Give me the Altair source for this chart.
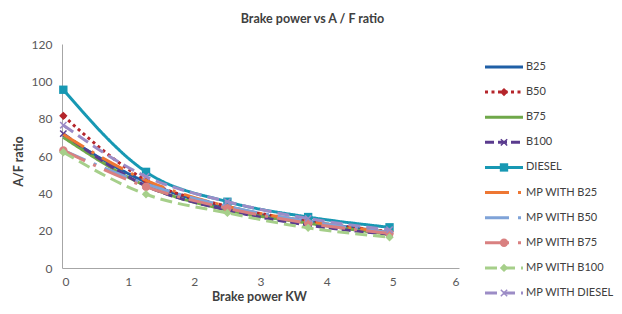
import altair as alt
import pandas as pd

x_kw = [0.02, 1.27, 2.5, 3.72, 4.95]
series = ["B25", "B50", "B75", "B100", "DIESEL", "MP WITH B25", "MP WITH B50",
          "MP WITH B75", "MP WITH B100", "MP WITH DIESEL"]
b25 = [71, 46, 32, 25, 19]
b50 = [81.5, 47, 33, 25, 19.5]
b75 = [70, 44, 31, 24, 18]
b100 = [72, 44, 31, 23, 18]
diesel = [95.5, 51.5, 35.5, 27.3, 21.8]
mp_b25 = [71.5, 47, 33, 25, 19]
mp_b50 = [63, 45, 33, 25, 19]
mp_b75 = [63, 43.5, 32, 24, 18.5]
mp_b100 = [62, 39.5, 29.5, 21.5, 16.5]
mp_diesel = [76.5, 49, 35.5, 26.5, 20.5]
values = [b25, b50, b75, b100, diesel, mp_b25, mp_b50, mp_b75, mp_b100, mp_diesel]

colors = ["#1f5fa6", "#b5252b", "#6fa84a", "#5a3b8e", "#1798b3",
          "#ee7733", "#7fa3d8", "#d98080", "#a6cf8a", "#9c8cc6"]
dashes = [[1, 0], [3, 3.5], [1, 0], [9, 4], [1, 0],
          [24, 9, 3, 9], [24, 9, 3, 9], [24, 9, 3, 9], [12, 6], [12, 6]]
XMARK = "M-1,-1L1,1M-1,1L1,-1"
marker_series = ["B50", "DIESEL", "MP WITH B75", "MP WITH B100"]
marker_shapes = ["diamond", "square", "circle", "diamond"]
x_series = ["B100", "MP WITH DIESEL"]

rows = []
for s, vals in zip(series, values):
    for xv, yv in zip(x_kw, vals):
        rows.append({"series": s, "kw": xv, "af": yv})
df = pd.DataFrame(rows)
leg = pd.DataFrame({"series": series})

FONT = "Lato"
X = alt.X("kw:Q", scale=alt.Scale(domain=[0, 6], nice=False),
          axis=alt.Axis(title="Brake power KW", values=[0, 1, 2, 3, 4, 5, 6], grid=False,
                        ticks=False, labelPadding=8, domainColor="#a6a6a6",
                        titleX=197, titleY=28, titleBaseline="middle", titleAlign="center"))
Y = alt.Y("af:Q", scale=alt.Scale(domain=[0, 120], nice=False),
          axis=alt.Axis(title="A/F ratio", values=[0, 20, 40, 60, 80, 100, 120], grid=False,
                        ticks=False, labelPadding=10, domainColor="#a6a6a6",
                        titleX=-44, titleY=117, titleAngle=270, titleBaseline="middle",
                        titleAlign="center"))

base = alt.Chart(df)
layers = []
for s, c, d in zip(series, colors, dashes):
    layers.append(base.transform_filter(alt.datum.series == s).mark_line(
        interpolate="monotone", strokeWidth=3, strokeDash=d, color=c
    ).encode(x=X, y=Y))
    if s in marker_series:
        shp = marker_shapes[marker_series.index(s)]
        layers.append(base.transform_filter(alt.datum.series == s).mark_point(
            shape=shp, filled=True, size=70, color=c, opacity=1
        ).encode(x=X, y=Y))
    if s in x_series:
        layers.append(base.transform_filter(alt.datum.series == s).mark_point(
            shape=XMARK, filled=False, size=40, color=c, strokeWidth=1.5, opacity=1
        ).encode(x=X, y=Y))
main = alt.layer(*layers)

LY = alt.Y("series:N", scale=alt.Scale(type="point", domain=series, range=[23, 249], padding=0),
           axis=None)
LC = alt.Color("series:N", scale=alt.Scale(domain=series, range=colors), legend=None)
LD = alt.StrokeDash("series:N", scale=alt.Scale(domain=series, range=dashes), legend=None)

lb = alt.Chart(leg)
leg_rule = lb.mark_rule(strokeWidth=3).encode(
    x=alt.value(423), x2=alt.value(461), y=LY, color=LC, strokeDash=LD)
leg_pts = lb.transform_filter(alt.FieldOneOfPredicate(field="series", oneOf=marker_series)).mark_point(
    filled=True, size=70, opacity=1).encode(
    x=alt.value(442), y=LY, color=LC,
    shape=alt.Shape("series:N", scale=alt.Scale(domain=marker_series, range=marker_shapes), legend=None))
leg_x = lb.transform_filter(alt.FieldOneOfPredicate(field="series", oneOf=x_series)).mark_point(
    shape=XMARK, filled=False, size=40, strokeWidth=1.5, opacity=1).encode(
    x=alt.value(442), y=LY, color=LC)
leg_txt = lb.mark_text(align="left", baseline="middle", font=FONT, fontSize=11,
                       color="#404040").encode(x=alt.value(464), y=LY, text="series:N")
legend = alt.layer(leg_rule, leg_pts, leg_x, leg_txt)

chart = alt.layer(main, legend).resolve_scale(
    y="independent"
).properties(
    width=397, height=224,
    title=alt.TitleParams("Brake power vs A / F ratio", font=FONT, fontSize=12.5,
                          fontWeight="bold", color="#404040", anchor="middle",
                          dx=52, offset=13),
    autosize=alt.AutoSizeParams(type="none"),
    padding={"left": 54, "top": 36, "right": 155, "bottom": 38},
).configure_view(stroke=None).configure_axis(
    labelFont=FONT, labelFontSize=12, labelColor="#595959",
    titleFont=FONT, titleFontSize=12.5, titleFontWeight="bold", titleColor="#404040"
)

chart.save("out.html", embed_options={"renderer": "svg", "actions": False})
